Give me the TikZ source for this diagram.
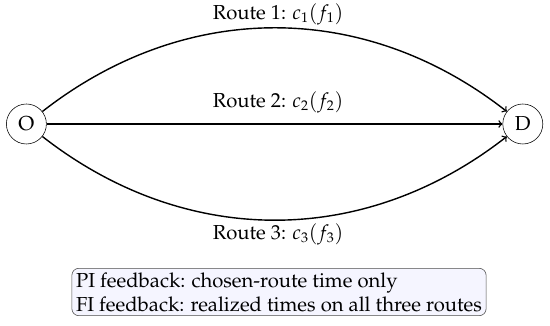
\documentclass[tikz,border=0pt]{standalone}
\usepackage[T1]{fontenc}
\usepackage{mathpazo}

\begin{document}
\begin{tikzpicture}[
    font=\fontsize{14.4}{17}\selectfont,
    city/.style={draw, circle, minimum size=1cm, inner sep=0pt},
    route/.style={line width=1pt, ->},
    infobox/.style={draw=black!70, rounded corners=5pt, fill=blue!4, align=left, inner sep=3pt}
  ]
  \useasboundingbox (0, 0) rectangle (13.75, 8.15);

  \node[city] (O) at ({0.66}, 5.05) {O};
  \node[city] (D) at ({13.07}, 5.05) {D};

  \draw[route] (O) to[bend left=38] (D);
  \draw[route] (O) -- (D);
  \draw[route] (O) to[bend right=38] (D);

  \node (r1) at ({6.95}, 7.8) {Route 1: $c_1(f_1)$};
  \node (r2) at ({6.95}, 5.58) {Route 2: $c_2(f_2)$};
  \node (r3) at ({6.95}, 2.3) {Route 3: $c_3(f_3)$};

  % feedback regimes
  \node[infobox] (fb) at ({6.975}, 0.85)
    {PI feedback: chosen-route time only\\
     FI feedback: realized times on all three routes};

\end{tikzpicture}
\end{document}
